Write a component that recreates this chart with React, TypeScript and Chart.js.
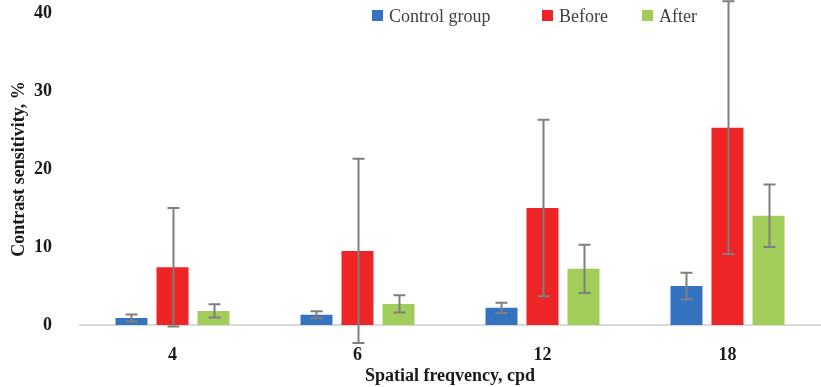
import React, { useEffect, useRef } from "react";
import { Chart, registerables } from "chart.js";

Chart.register(...registerables);

// Spatial frequencies (cycles per degree)
const frequencies = ["4", "6", "12", "18"];

// Mean contrast sensitivity, %
const controlValues = [0.9, 1.3, 2.2, 5.0];
const beforeValues = [7.4, 9.5, 15.0, 25.3];
const afterValues = [1.8, 2.7, 7.2, 14.0];

// Standard deviations (symmetric error bars)
const controlErrors = [0.45, 0.45, 0.65, 1.7];
const beforeErrors = [7.6, 11.8, 11.3, 16.2];
const afterErrors = [0.85, 1.1, 3.1, 4.0];

const yTicks = [0, 10, 20, 30, 40];

const SERIF = "'Liberation Serif', 'Times New Roman', serif";

const errorBarPlugin = {
  id: "errorBars",
  afterDatasetsDraw(chart: any) {
    const ctx = chart.ctx;
    const yScale = chart.scales.y;
    ctx.save();
    ctx.strokeStyle = "#7f7f7f";
    ctx.lineWidth = 2;
    chart.data.datasets.forEach((ds: any, di: number) => {
      const meta = chart.getDatasetMeta(di);
      const errs: number[] = ds.errors || [];
      meta.data.forEach((bar: any, i: number) => {
        const v = ds.data[i];
        const e = errs[i];
        if (e == null) return;
        const x = Math.round(bar.x) + 0.5;
        const yTop = yScale.getPixelForValue(v + e);
        const yBot = yScale.getPixelForValue(v - e);
        const cap = 6;
        ctx.beginPath();
        ctx.moveTo(x, yTop);
        ctx.lineTo(x, yBot);
        ctx.moveTo(x - cap, yTop);
        ctx.lineTo(x + cap, yTop);
        ctx.moveTo(x - cap, yBot);
        ctx.lineTo(x + cap, yBot);
        ctx.stroke();
      });
    });
    ctx.restore();
  },
};

const legendPlugin = {
  id: "seriesLegend",
  afterDraw(chart: any, _args: any, opts: any) {
    const ctx = chart.ctx;
    const xs: number[] = opts.itemX || [];
    const y = opts.y ?? 16;
    ctx.save();
    ctx.font = `18px ${SERIF}`;
    ctx.textBaseline = "middle";
    ctx.textAlign = "left";
    chart.data.datasets.forEach((ds: any, i: number) => {
      const x = xs[i];
      ctx.fillStyle = ds.backgroundColor;
      ctx.fillRect(x, y - 6, 11, 11);
      ctx.fillStyle = "#404040";
      ctx.fillText(ds.label, x + 17, y + 1);
    });
    ctx.restore();
  },
};

export default function App() {
  const canvasRef = useRef<HTMLCanvasElement | null>(null);

  useEffect(() => {
    if (!canvasRef.current) return;
    const chart = new Chart(canvasRef.current, {
      type: "bar",
      data: {
        labels: frequencies,
        datasets: [
          {
            label: "Control group",
            data: controlValues,
            errors: controlErrors,
            backgroundColor: "#3473bf",
          } as any,
          {
            label: "Before",
            data: beforeValues,
            errors: beforeErrors,
            backgroundColor: "#ee2526",
          } as any,
          {
            label: "After",
            data: afterValues,
            errors: afterErrors,
            backgroundColor: "#a3cd5a",
          } as any,
        ],
      },
      plugins: [errorBarPlugin, legendPlugin],
      options: {
        animation: false,
        responsive: false,
        devicePixelRatio: 1,
        layout: { padding: { top: 13, right: 1, left: 0, bottom: 0 } },
        datasets: {
          bar: { categoryPercentage: 0.665, barPercentage: 0.78 },
        },
        plugins: {
          legend: { display: false },
          tooltip: { enabled: false },
          seriesLegend: { itemX: [372, 542, 642], y: 16 },
        } as any,
        scales: {
          x: {
            grid: { display: false, drawTicks: false },
            border: { display: true, color: "#d9d9d9", width: 2 },
            ticks: {
              color: "#1a1a1a",
              padding: 20,
              font: { family: SERIF, size: 18, weight: "bold" },
            },
            title: {
              display: true,
              text: "Spatial freqvency, cpd",
              color: "#1a1a1a",
              padding: { top: 0, bottom: 0 },
              font: { family: SERIF, size: 18, weight: "bold" },
            },
            afterFit(scale: any) {
              scale.height = 62;
              scale.paddingLeft = 0;
              scale.paddingRight = 0;
            },
          },
          y: {
            min: 0,
            max: 40,
            afterBuildTicks(scale: any) {
              scale.ticks = yTicks.map((v) => ({ value: v }));
            },
            grid: { display: false, drawTicks: false },
            border: { display: false },
            ticks: {
              color: "#1a1a1a",
              padding: 28,
              font: { family: SERIF, size: 18, weight: "bold" },
            },
            title: {
              display: true,
              text: "Contrast sensitivity, %",
              color: "#1a1a1a",
              padding: { top: 9, bottom: 0 },
              font: { family: SERIF, size: 18, weight: "bold" },
            },
            afterFit(scale: any) {
              scale.width = 80;
              scale.paddingTop = 0;
              scale.paddingBottom = 0;
            },
          },
        },
      } as any,
    });
    return () => chart.destroy();
  }, []);

  return (
    <div
      style={{
        position: "fixed",
        left: 0,
        top: 0,
        width: 821,
        height: 387,
        background: "#ffffff",
      }}
    >
      <canvas ref={canvasRef} width={821} height={387} />
    </div>
  );
}
